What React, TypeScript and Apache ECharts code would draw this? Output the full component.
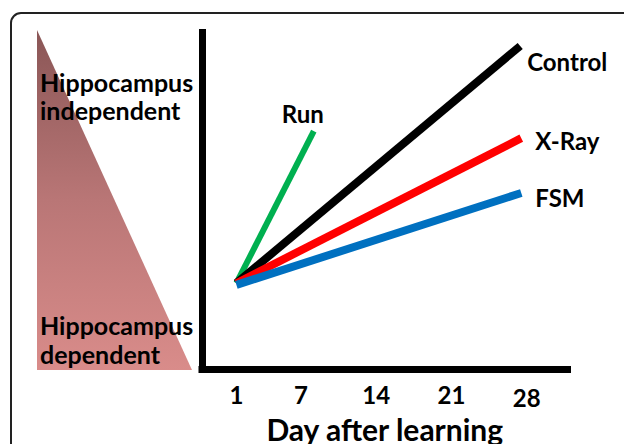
import React, { useEffect, useRef } from "react";
import * as echarts from "echarts";

// ---- data ----
const tickDays = [1, 7, 14, 21, 28];
const xAxisTitle = "Day after learning";
const scaleTopText = ["Hippocampus", "independent"];
const scaleBottomText = ["Hippocampus", "dependent"];

const seriesNames = ["Run", "Control", "X-Ray", "FSM"];
const runDays = [1, 8.2];
const runLevels = [25.5, 70.7];
const controlDays = [1, 27.4];
const controlLevels = [25.5, 96];
const xrayDays = [1, 27.5];
const xrayLevels = [25.5, 68.6];
const fsmDays = [1, 27.5];
const fsmLevels = [25, 52.3];

const FONT = "Lato";

function buildSeries(
  name: string,
  days: number[],
  levels: number[],
  color: string,
  width: number,
  labelPos: number[],
  align: string
) {
  const data: any[] = days.map((d, i) => [d, levels[i]]);
  const last = data.length - 1;
  data[last] = {
    value: data[last],
    label: {
      show: true,
      formatter: name,
      position: labelPos,
      align: align,
      verticalAlign: "middle",
      fontSize: 24,
      fontWeight: "bold",
      fontFamily: FONT,
      color: "#000",
    },
  };
  return {
    type: "line",
    name,
    data,
    symbol: "circle",
    symbolSize: 0,
    showSymbol: true,
    silent: true,
    emphasis: { disabled: true },
    lineStyle: { color, width, cap: "butt" },
    itemStyle: { color },
  };
}

export default function App() {
  const ref = useRef<HTMLDivElement>(null);
  useEffect(() => {
    if (!ref.current) return;
    const chart = echarts.init(ref.current, null, { renderer: "svg" });
    const textStyleBase = {
      font: `bold 25px ${FONT}`,
      fill: "#000",
      align: "left",
      verticalAlign: "middle",
      lineHeight: 25,
    };
    const tickText = { fontSize: 24, fontWeight: "bold", fontFamily: FONT, color: "#000" };
    const option: any = {
      animation: false,
      backgroundColor: "#fff",
      grid: {
        left: 202,
        top: 32.5,
        right: 56.5,
        bottom: 75,
        containLabel: false,
        outerBoundsMode: "none",
      },
      xAxis: {
        type: "value",
        min: -2.2,
        max: 31.8,
        axisLine: {
          show: true,
          onZero: false,
          lineStyle: { color: "#000", width: 7, cap: "square" },
        },
        axisTick: { show: false },
        splitLine: { show: false },
        axisLabel: {
          customValues: tickDays,
          margin: 13,
          ...tickText,
          formatter: (v: number) => (v === 28 ? `{low|${v}}` : `{n|${v}}`),
          rich: {
            n: { ...tickText },
            low: { ...tickText, padding: [3, 0, 0, 0] },
          },
        },
        name: xAxisTitle,
        nameLocation: "middle",
        nameGap: 42,
        nameTextStyle: { fontSize: 30, fontWeight: "bold", fontFamily: FONT, color: "#000" },
      },
      yAxis: {
        type: "value",
        min: 0,
        max: 100,
        axisLine: {
          show: true,
          onZero: false,
          lineStyle: { color: "#000", width: 7, cap: "square" },
        },
        axisTick: { show: false },
        axisLabel: { show: false },
        splitLine: { show: false },
      },
      graphic: [
        {
          type: "rect",
          z: 0,
          silent: true,
          shape: { x: 11, y: 13, width: 700, height: 500, r: 10 },
          style: { fill: "none", stroke: "#222", lineWidth: 2 },
        },
        {
          type: "polygon",
          z: 1,
          silent: true,
          shape: { points: [[37, 30], [37, 370], [192, 370]] },
          style: {
            fill: {
              type: "linear",
              x: 0,
              y: 0,
              x2: 0,
              y2: 1,
              colorStops: [
                { offset: 0, color: "#8a5656" },
                { offset: 0.5, color: "#b97676" },
                { offset: 1, color: "#d98c8a" },
              ],
            },
          },
        },
        { type: "text", z: 10, x: 40, y: 82, style: { ...textStyleBase, text: scaleTopText[0] } },
        { type: "text", z: 10, x: 40, y: 110, style: { ...textStyleBase, text: scaleTopText[1] } },
        { type: "text", z: 10, x: 40, y: 325, style: { ...textStyleBase, text: scaleBottomText[0] } },
        { type: "text", z: 10, x: 40, y: 354, style: { ...textStyleBase, text: scaleBottomText[1] } },
      ],
      series: [
        buildSeries(seriesNames[0], runDays, runLevels, "#00b050", 6, [-11, -18], "center"),
        buildSeries(seriesNames[1], controlDays, controlLevels, "#000000", 8, [7, 16], "left"),
        buildSeries(seriesNames[2], xrayDays, xrayLevels, "#ff0000", 8, [14, 2], "left"),
        buildSeries(seriesNames[3], fsmDays, fsmLevels, "#0070c0", 8, [14, 4], "left"),
      ],
    };
    chart.setOption(option);
    return () => chart.dispose();
  }, []);
  return (
    <div
      ref={ref}
      style={{ position: "fixed", left: 0, top: 0, width: 624, height: 444 }}
    />
  );
}
